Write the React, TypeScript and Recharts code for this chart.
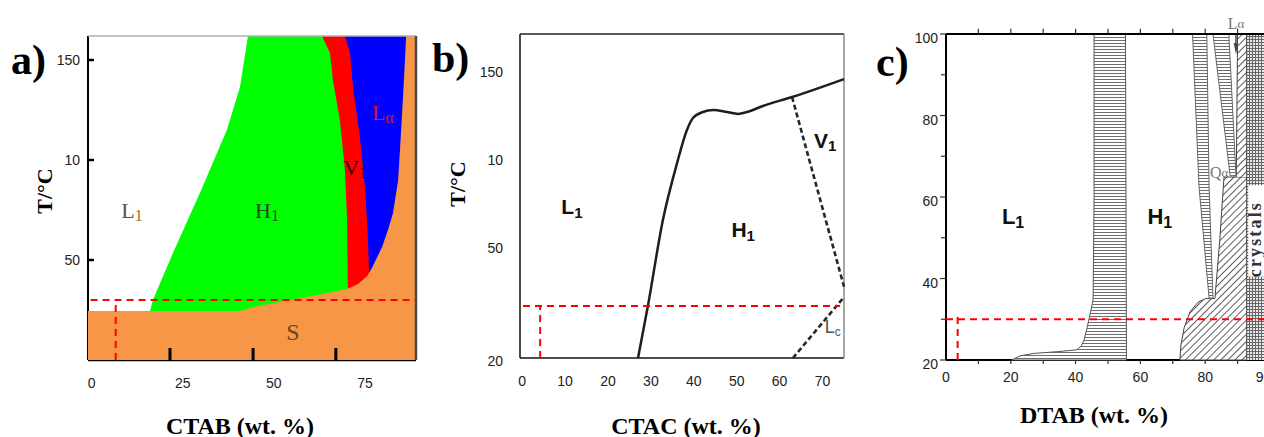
import React from 'react';
import { ComposedChart, Scatter, XAxis, YAxis, ReferenceLine } from 'recharts';

type Pt = { x: number; y: number };
type Lab = { x: number; y: number; main: string; sub: string };

// ---------------- Panel a : CTAB ----------------
const aXTicks = [0, 25, 50, 75];
const aYTicks = [50, 100, 150];
const aYTickLabels = ['50', '10', '150'];
const aInnerTicks = [21.5, 44.3, 67.0];
const aXDomain = [-1, 89];
const aYDomain = [0, 162];
const aBlue: Pt[] = [{ x: 62, y: 162 }, { x: 89, y: 162 }, { x: 89, y: 30 }, { x: 62, y: 30 }];
const aRed: Pt[] = [
  { x: 60, y: 162 }, { x: 69.5, y: 162 }, { x: 70.9, y: 153.5 }, { x: 71.7, y: 136.5 }, { x: 73.6, y: 111.5 },
  { x: 75.0, y: 86.5 }, { x: 75.8, y: 61.5 }, { x: 76.1, y: 45 }, { x: 76.1, y: 30 }, { x: 60, y: 30 },
];
const aGreen: Pt[] = [
  { x: 16.0, y: 24.5 }, { x: 16.8, y: 30 }, { x: 22.3, y: 53.5 }, { x: 29.7, y: 83.5 }, { x: 37.1, y: 115 },
  { x: 40.7, y: 136.5 }, { x: 42.9, y: 162 }, { x: 63.2, y: 162 }, { x: 65.4, y: 153.5 }, { x: 66.2, y: 140 },
  { x: 68.1, y: 120 }, { x: 69.5, y: 95 }, { x: 70.1, y: 70 }, { x: 70.3, y: 36 }, { x: 70.3, y: 24 }, { x: 16, y: 24 },
];
const aOrange: Pt[] = [
  { x: -1, y: 0 }, { x: -1, y: 24.5 }, { x: 40.7, y: 24.5 }, { x: 44.3, y: 26.5 }, { x: 51.7, y: 29 },
  { x: 61.8, y: 32.5 }, { x: 70.1, y: 35.5 }, { x: 73.1, y: 38 }, { x: 75.6, y: 42 }, { x: 76.9, y: 46 },
  { x: 79.7, y: 56.5 }, { x: 81.3, y: 65 }, { x: 82.7, y: 73.5 }, { x: 84.1, y: 90 }, { x: 84.6, y: 105 },
  { x: 85.4, y: 130 }, { x: 86.3, y: 162 }, { x: 89, y: 162 }, { x: 89, y: 0 },
];
const aRedH: Pt[] = [{ x: -0.3, y: 30 }, { x: 89, y: 30 }];
const aRedV: Pt[] = [{ x: 6.6, y: 0 }, { x: 6.6, y: 30 }];
const aInnerTickLen = 6;
const aLabels: Lab[] = [
  { x: 11.1, y: 75, main: 'L', sub: '1' },
  { x: 48.1, y: 75, main: 'H', sub: '1' },
  { x: 72.3, y: 96.5, main: 'V', sub: '1' },
  { x: 79.9, y: 124, main: 'L', sub: 'α' },
  { x: 55.2, y: 14, main: 'S', sub: '' },
];

// ---------------- Panel b : CTAC ----------------
const bXTicks = [0, 10, 20, 30, 40, 50, 60, 70];
const bYTicks = [-14, 50, 100, 150];
const bYTickLabels = ['20', '50', '10', '150'];
const bXDomain = [-0.5, 75];
const bYDomain = [-14, 170];
const bSolid: Pt[] = [
  { x: 27.0, y: -14 }, { x: 29.3, y: 15.5 }, { x: 32.8, y: 64.4 }, { x: 36.1, y: 96.7 }, { x: 38.4, y: 115.5 },
  { x: 39.8, y: 122.3 }, { x: 42.1, y: 125.7 }, { x: 44.5, y: 126.8 }, { x: 47.7, y: 125.7 }, { x: 50.3, y: 124.6 },
  { x: 52.4, y: 125.7 }, { x: 56.1, y: 129.1 }, { x: 62.9, y: 134.2 }, { x: 75, y: 144.4 },
];
const bDashV1: Pt[] = [{ x: 62.9, y: 134.2 }, { x: 75, y: 26.5 }];
const bDashLc: Pt[] = [{ x: 63.1, y: -14 }, { x: 75, y: 20.6 }];
const bRedH: Pt[] = [{ x: 0.2, y: 15.5 }, { x: 74.1, y: 15.5 }];
const bRedV: Pt[] = [{ x: 4.2, y: -14 }, { x: 4.2, y: 15.5 }];
const bLabels: Lab[] = [
  { x: 11.6, y: 71.8, main: 'L', sub: '1' },
  { x: 51.5, y: 58.7, main: 'H', sub: '1' },
  { x: 70.6, y: 109.8, main: 'V', sub: '1' },
];
const bLc: Lab = { x: 72.4, y: 3.6, main: 'L', sub: 'c' };

// ---------------- Panel c : DTAB ----------------
const cXTicks = [0, 10, 20, 30, 40, 50, 60, 70, 80, 90, 98];
const cXTickLabels: Record<number, string> = { 0: '0', 20: '20', 40: '40', 60: '60', 80: '80', 98: '90' };
const cYTicks = [20, 30, 40, 50, 60, 70, 80, 90, 100];
const cYMajor = [20, 40, 60, 80, 100];
const cTopTicks = [10, 20, 30, 40, 50, 60, 70, 80, 90];
const cXDomain = [0, 98.15];
const cYDomain = [20, 100];
const cBand1: Pt[] = [
  { x: 20.3, y: 20 }, { x: 22.8, y: 21 }, { x: 26.9, y: 21.6 }, { x: 35.2, y: 22.1 }, { x: 40.3, y: 22.5 },
  { x: 41.7, y: 23.4 }, { x: 42.6, y: 24.9 }, { x: 43.4, y: 27.4 }, { x: 44.4, y: 31 }, { x: 45.4, y: 34.7 },
  { x: 45.7, y: 59.3 }, { x: 45.7, y: 100 }, { x: 55.4, y: 100 }, { x: 55.7, y: 20 }, { x: 20.3, y: 20 },
];
const cBandA: Pt[] = [
  { x: 76.1, y: 100 }, { x: 80.5, y: 100 }, { x: 81.2, y: 62.5 }, { x: 82.4, y: 35.2 }, { x: 81.2, y: 35.2 },
  { x: 78.1, y: 62.5 }, { x: 76.1, y: 100 },
];
const cBandB: Pt[] = [{ x: 82.4, y: 100 }, { x: 87.3, y: 100 }, { x: 89.5, y: 65.2 }, { x: 87.7, y: 65.2 }, { x: 82.4, y: 100 }];
const cDiag: Pt[] = [
  { x: 72.2, y: 20 }, { x: 72.5, y: 23.7 }, { x: 73.5, y: 27.9 }, { x: 75.3, y: 31.8 }, { x: 77.8, y: 34.2 },
  { x: 80.2, y: 35.1 }, { x: 83.0, y: 35.1 }, { x: 84.5, y: 49.4 }, { x: 85.8, y: 64.9 }, { x: 92.8, y: 64.9 },
  { x: 92.8, y: 20 }, { x: 72.2, y: 20 },
];
const cDiagStrip: Pt[] = [{ x: 89.6, y: 64.9 }, { x: 90.0, y: 100 }, { x: 92.8, y: 100 }, { x: 92.8, y: 64.9 }];
const cCrystals: Pt[] = [{ x: 92.8, y: 20 }, { x: 92.8, y: 100 }, { x: 98.15, y: 100 }, { x: 98.15, y: 20 }];
const cCrystalBox: Pt[] = [{ x: 93.3, y: 40.4 }, { x: 93.3, y: 62.9 }, { x: 98.15, y: 62.9 }, { x: 98.15, y: 40.4 }];
const cArrow: Pt[] = [{ x: 89.5, y: 100 }, { x: 89.5, y: 96.5 }];
const cArrowHead: Pt[] = [{ x: 88.8, y: 97.8 }, { x: 90.2, y: 97.8 }, { x: 89.5, y: 95.0 }];
const cRedH: Pt[] = [{ x: 0, y: 30 }, { x: 98.15, y: 30 }];
const cRedV: Pt[] = [{ x: 3.6, y: 20 }, { x: 3.6, y: 30.6 }];
const cLabels: Lab[] = [
  { x: 20.7, y: 55.1, main: 'L', sub: '1' },
  { x: 66.0, y: 55.1, main: 'H', sub: '1' },
];
const cLalpha: Lab = { x: 89.5, y: 100, main: 'L', sub: 'α' };
const cQalpha: Lab = { x: 84.3, y: 66.1, main: 'Q', sub: 'α' };
const cCrystalText: Lab = { x: 95.5, y: 49.4, main: 'crystals', sub: '' };

// ---------------- helpers ----------------
const SANS = '"Liberation Sans", Arial, sans-serif';
const SERIF = '"Liberation Serif", "Times New Roman", serif';

const noShape = () => <g />;

function polygon(key: string, data: Pt[], fill: string, stroke = 'none', sw = 0) {
  return (
    <Scatter key={key} data={data} shape={noShape} isAnimationActive={false}
      line={{ fill, stroke, strokeWidth: sw }} lineType="joint" lineJointType="linear" />
  );
}

function polyline(key: string, data: Pt[], stroke: string, sw: number, dash?: string, joint: any = 'linear') {
  return (
    <Scatter key={key} data={data} shape={noShape} isAnimationActive={false}
      line={{ fill: 'none', stroke, strokeWidth: sw, strokeDasharray: dash }} lineType="joint" lineJointType={joint} />
  );
}

type LabStyle = {
  font: string; size: number; weight: string | number; color: string;
  subSize?: number; subDy?: number; subColor?: string; dy?: number; rotate?: number; textLength?: number;
};

function label(key: string, lab: Lab, st: LabStyle) {
  const shape = (p: any) => {
    const cx = p.cx;
    const cy = p.cy + (st.dy || 0);
    return (
      <text x={cx} y={cy} textAnchor="middle" dominantBaseline="central" fontFamily={st.font}
        fontSize={st.size} fontWeight={st.weight} fill={st.color}
        textLength={st.textLength} lengthAdjust={st.textLength ? 'spacing' : undefined}
        transform={st.rotate ? `rotate(${st.rotate} ${cx} ${cy})` : undefined}>
        {lab.main}
        {lab.sub ? (
          <tspan fontSize={st.subSize || st.size} dy={st.subDy || 0} fill={st.subColor || st.color}>{lab.sub}</tspan>
        ) : null}
      </text>
    );
  };
  return <Scatter key={key} data={[lab]} shape={shape} isAnimationActive={false} />;
}

// ---------------- tick renderers ----------------
const ATickX = (p: any) => (
  <text x={p.x} y={p.y + 28} textAnchor="middle" fontSize={14} fontFamily={SANS} fill="#222">{p.payload.value}</text>
);
const ATickY = (p: any) => {
  const i = aYTicks.indexOf(p.payload.value);
  return (
    <g>
      <line x1={p.x + 8} x2={p.x + 14} y1={p.y} y2={p.y} stroke="#000" strokeWidth={2.5} />
      <text x={p.x} y={p.y} dy="0.35em" textAnchor="end" fontSize={14} fontFamily={SANS} fill="#222">{aYTickLabels[i]}</text>
    </g>
  );
};
const BTickX = ATickX;
const BTickY = (p: any) => {
  const i = bYTicks.indexOf(p.payload.value);
  return (
    <text x={p.x} y={p.y + 3} dy="0.35em" textAnchor="end" fontSize={14} fontFamily={SANS} fill="#222">{bYTickLabels[i]}</text>
  );
};
const CTickX = (p: any) => {
  const v = p.payload.value;
  const lab = cXTickLabels[v];
  return (
    <g>
      {v > 0 && v <= 90 ? <line x1={p.x} x2={p.x} y1={p.y} y2={p.y + 4} stroke="#333" strokeWidth={1.2} /> : null}
      {lab !== undefined ? (
        <text x={p.x} y={p.y + 22} textAnchor="middle" fontSize={14} fontFamily={SANS} fill="#222">{lab}</text>
      ) : null}
    </g>
  );
};
const CTickY = (p: any) => {
  const v = p.payload.value;
  const major = cYMajor.indexOf(v) >= 0;
  return (
    <g>
      <line x1={p.x + 8} x2={p.x + 8 - (major ? 6 : 5)} y1={p.y} y2={p.y} stroke="#333" strokeWidth={1.2} />
      {major ? (
        <text x={p.x} y={p.y + 9} textAnchor="end" fontSize={14} fontFamily={SANS} fill="#222">{v}</text>
      ) : null}
    </g>
  );
};

// ---------------- panels ----------------
function PanelA() {
  const serifLab = (color: string, subColor?: string): LabStyle => ({
    font: SERIF, size: 22, weight: 'normal', color, subSize: 16, subDy: 5, subColor,
  });
  const styles: LabStyle[] = [
    serifLab('#555555', '#b0661f'),
    serifLab('#1e4a1e'),
    serifLab('#2a0808'),
    serifLab('#d4143c'),
    { font: SERIF, size: 24, weight: 'normal', color: '#6b4423' },
  ];
  const [x0, x1] = aXDomain;
  const [y0, y1] = aYDomain;
  return (
    <ComposedChart width={430} height={437} margin={{ top: 36, right: 14, bottom: 47, left: 48 }}>
      <XAxis type="number" dataKey="x" domain={aXDomain} ticks={aXTicks} interval={0} height={30}
        tick={ATickX} tickLine={false} tickSize={0} tickMargin={0} axisLine={{ stroke: '#000', strokeWidth: 2.5 }} />
      <YAxis type="number" dataKey="y" domain={aYDomain} ticks={aYTicks} interval={0} width={40}
        tick={ATickY} tickLine={false} tickSize={0} tickMargin={8} axisLine={{ stroke: '#000', strokeWidth: 2 }} />
      {polygon('blue', aBlue, '#0000ff')}
      {polygon('red', aRed, '#ff0000')}
      {polygon('green', aGreen, '#00ff00')}
      {polygon('orange', aOrange, '#f79646')}
      {polyline('top', [{ x: x0, y: y1 }, { x: x1, y: y1 }], '#b0b0b0', 1.5)}
      {polyline('right', [{ x: x1, y: y0 }, { x: x1, y: y1 }], '#4a4a4a', 2.5)}
      {aInnerTicks.map((t) => polyline('it' + t, [{ x: t, y: y0 }, { x: t, y: y0 + aInnerTickLen }], '#000', 3))}
      {polyline('redH', aRedH, '#ff0000', 2, '7 5')}
      {polyline('redV', aRedV, '#ff0000', 2, '7 5')}
      {aLabels.map((l, i) => label('al' + i, l, styles[i]))}
    </ComposedChart>
  );
}

function PanelB() {
  const bold: LabStyle = { font: SANS, size: 21, weight: 'bold', color: '#111', subSize: 15, subDy: 5 };
  const [x0, x1] = bXDomain;
  const [y0, y1] = bYDomain;
  return (
    <ComposedChart width={430} height={437} margin={{ top: 34, right: 16, bottom: 49, left: 50 }}>
      <XAxis type="number" dataKey="x" domain={bXDomain} ticks={bXTicks} interval={0} height={30}
        tick={BTickX} tickLine={false} tickSize={0} tickMargin={0} axisLine={{ stroke: '#111', strokeWidth: 1.5 }} />
      <YAxis type="number" dataKey="y" domain={bYDomain} ticks={bYTicks} interval={0} width={40}
        tick={BTickY} tickLine={false} tickSize={0} tickMargin={17} axisLine={{ stroke: '#111', strokeWidth: 1.5 }} />
      {polyline('top', [{ x: x0, y: y1 }, { x: x1, y: y1 }], '#222', 1.5)}
      {polyline('right', [{ x: x1, y: y0 }, { x: x1, y: y1 }], '#8a8a8a', 1.5)}
      {polyline('solid', bSolid, '#1e1e1e', 2.5, undefined, 'monotoneX')}
      {polyline('dv1', bDashV1, '#262626', 2.6, '5 3')}
      {polyline('dlc', bDashLc, '#262626', 2.6, '5 3')}
      {polyline('redH', bRedH, '#ff0000', 2, '7 5')}
      {polyline('redV', bRedV, '#ff0000', 2, '7 5')}
      {bLabels.map((l, i) => label('bl' + i, l, bold))}
      {label('lc', bLc, { font: SANS, size: 18, weight: 'normal', color: '#555', subSize: 12, subDy: 5 })}
    </ComposedChart>
  );
}

function PanelC() {
  const bold: LabStyle = { font: SANS, size: 22, weight: 'bold', color: '#111', subSize: 16, subDy: 5 };
  const small: LabStyle = { font: SERIF, size: 16, weight: 'normal', color: '#777', subSize: 13, subDy: 0 };
  const [x0, x1] = cXDomain;
  const [, y1] = cYDomain;
  return (
    <ComposedChart width={384} height={437} margin={{ top: 34, right: 0, bottom: 47, left: 26 }}>
      <XAxis type="number" dataKey="x" domain={cXDomain} ticks={cXTicks} interval={0} height={30}
        tick={CTickX} tickLine={false} tickSize={0} tickMargin={0} axisLine={{ stroke: '#000', strokeWidth: 2 }} />
      <YAxis type="number" dataKey="y" domain={cYDomain} ticks={cYTicks} interval={0} width={40}
        tick={CTickY} tickLine={false} tickSize={0} tickMargin={8} axisLine={{ stroke: '#000', strokeWidth: 2 }} />
      {polygon('crys', cCrystals, 'url(#grid)')}
      {polygon('crysBox', cCrystalBox, '#ffffff')}
      {polygon('band1', cBand1, 'url(#hl)', '#555', 1)}
      {polygon('diag', cDiag, 'url(#diag)', '#444', 1)}
      {polygon('diagStrip', cDiagStrip, 'url(#diag)', '#444', 1)}
      {polygon('bandA', cBandA, 'url(#hl)', '#666', 1)}
      {polygon('bandB', cBandB, 'url(#hl)', '#666', 1)}
      {polyline('arrow', cArrow, '#444', 1.5)}
      {polygon('arrowHead', cArrowHead, '#444')}
      {polyline('top', [{ x: x0, y: y1 }, { x: x1, y: y1 }], '#000', 2)}
      {cTopTicks.map((t) => (
        <ReferenceLine key={'tt' + t} segment={[{ x: t, y: 100 }, { x: t, y: 101.3 }]} stroke="#333" strokeWidth={1.2} ifOverflow="visible" />
      ))}
      {polyline('redH', cRedH, '#ff0000', 2, '7 5')}
      {polyline('redV', cRedV, '#ff0000', 2, '7 5')}
      {cLabels.map((l, i) => label('cl' + i, l, bold))}
      {label('la', cLalpha, { ...small, dy: -11 })}
      {label('qa', cQalpha, small)}
      {label('crtext', cCrystalText, { font: SERIF, size: 18, weight: 'bold', color: '#333', rotate: -90, textLength: 74 })}
    </ComposedChart>
  );
}

export default function App() {
  const title = { fontFamily: SERIF, fontWeight: 'bold' as const, fill: '#000' };
  return (
    <div style={{ position: 'fixed', left: 0, top: 0, width: 1264, height: 437, overflow: 'hidden', background: '#fff' }}>
      <svg width={0} height={0} style={{ position: 'absolute' }}>
        <defs>
          <pattern id="hl" width="6" height="3" patternUnits="userSpaceOnUse">
            <rect width="6" height="3" fill="#fff" />
            <line x1="0" y1="1.5" x2="6" y2="1.5" stroke="#6e6e6e" strokeWidth="1" />
          </pattern>
          <pattern id="diag" width="5" height="5" patternUnits="userSpaceOnUse" patternTransform="rotate(45)">
            <rect width="5" height="5" fill="#fff" />
            <line x1="0" y1="0" x2="0" y2="5" stroke="#333" strokeWidth="1.6" />
          </pattern>
          <pattern id="grid" width="3" height="3" patternUnits="userSpaceOnUse">
            <rect width="3" height="3" fill="#e8e8e8" />
            <path d="M0 0.5H3M0.5 0V3" stroke="#666" strokeWidth="1" />
          </pattern>
        </defs>
      </svg>
      <div style={{ position: 'absolute', left: 0, top: 0 }}><PanelA /></div>
      <div style={{ position: 'absolute', left: 430, top: 0 }}><PanelB /></div>
      <div style={{ position: 'absolute', left: 880, top: 0 }}><PanelC /></div>
      <svg width={1264} height={437} style={{ position: 'absolute', left: 0, top: 0, pointerEvents: 'none' }}>
        <text x={11} y={74} fontSize={42} {...title}>a)</text>
        <text x={432} y={72} fontSize={42} {...title}>b)</text>
        <text x={876} y={76} fontSize={42} {...title}>c)</text>
        <text x={44} y={191} fontSize={22} textAnchor="middle" dominantBaseline="central" transform="rotate(-90 44 191)" {...title}>T/°C</text>
        <text x={457} y={184} fontSize={22} textAnchor="middle" dominantBaseline="central" transform="rotate(-90 457 184)" {...title}>T/°C</text>
        <text x={240} y={434} fontSize={24} textAnchor="middle" {...title}>CTAB (wt. %)</text>
        <text x={686} y={434} fontSize={24} textAnchor="middle" {...title}>CTAC (wt. %)</text>
        <text x={1094} y={423} fontSize={24} textAnchor="middle" {...title}>DTAB (wt. %)</text>
      </svg>
    </div>
  );
}
